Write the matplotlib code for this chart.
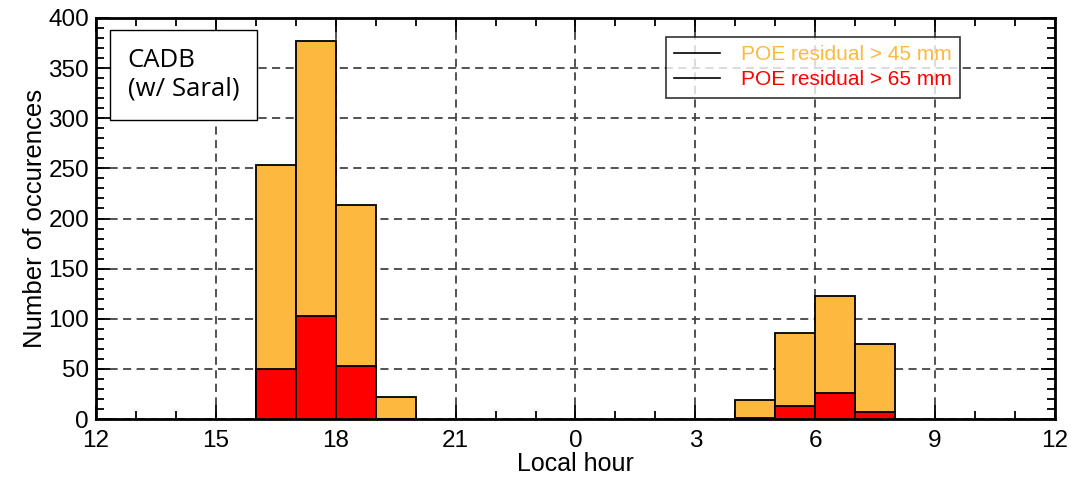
import numpy as np
import matplotlib
matplotlib.use('Agg')
import matplotlib.pyplot as plt
from matplotlib.ticker import MultipleLocator
from matplotlib.lines import Line2D

plt.rcParams['font.family'] = ['Liberation Sans', 'DejaVu Sans']

# ---------------------- data ----------------------
# bin left edges in hours since noon (12 -> 36, wrapping through midnight)
bin_left = [16, 17, 18, 19, 28, 29, 30, 31]
count_45 = [253, 377, 213, 22, 19, 86, 123, 75]
count_65 = [50, 103, 53, 0, 1, 13, 26, 7]
tick_pos = [12, 15, 18, 21, 24, 27, 30, 33, 36]
tick_lab = ['12', '15', '18', '21', '0', '3', '6', '9', '12']

orange = '#FDB93F'
red = '#FF0000'

fig = plt.figure(figsize=(10.71, 4.79), dpi=100)
ax = fig.add_axes([96 / 1071, 1 - 419 / 479, 959 / 1071, 401 / 479])

ax.bar(bin_left, count_45, width=1, align='edge', color=orange,
       edgecolor='black', linewidth=1.3, zorder=3)
ax.bar(bin_left, count_65, width=1, align='edge', color=red,
       edgecolor='black', linewidth=1.3, zorder=4)

ax.set_xlim(12, 36)
ax.set_ylim(0, 400)
ax.set_xticks(tick_pos)
ax.set_xticklabels(tick_lab)
ax.xaxis.set_minor_locator(MultipleLocator(1))
ax.yaxis.set_major_locator(MultipleLocator(50))
ax.yaxis.set_minor_locator(MultipleLocator(10))
ax.tick_params(which='both', direction='in', top=True, right=True,
               labelsize=17.5, width=1.3, colors='black')
ax.tick_params(which='major', length=10)
ax.tick_params(which='minor', length=6)
ax.tick_params(axis='x', pad=8)
ax.tick_params(axis='y', pad=5)
for s in ax.spines.values():
    s.set_linewidth(2)
ax.grid(True, which='major', linestyle=(0, (4.5, 3)), color='#444444',
        linewidth=1.3, zorder=1)

ax.set_xlabel('Local hour', fontsize=18, labelpad=0)
ax.set_ylabel('Number of occurences', fontsize=18.5, labelpad=1)

# clipped label of an upper panel
fig.text(0.5, 1.018, 'Local hour', ha='center', va='center', fontsize=18.5)

# CADB box
ax.text(0.033, 0.925, 'CADB\n(w/ Saral)', transform=ax.transAxes,
        ha='left', va='top', fontsize=18.5, linespacing=1.2, zorder=6,
        family=['Open Sans', 'DejaVu Sans'],
        bbox=dict(boxstyle='square,pad=0.7', facecolor='white',
                  edgecolor='black', linewidth=1))

handles = [Line2D([], [], color='black', linewidth=1.2),
           Line2D([], [], color='black', linewidth=1.2)]
leg = ax.legend(handles, ['POE residual > 45 mm', 'POE residual > 65 mm'],
                loc='upper left', bbox_to_anchor=(0.594, 0.953),
                fontsize=15, frameon=True, fancybox=False, handlelength=2.2,
                handletextpad=1.0, borderpad=0.4, labelspacing=0.3,
                borderaxespad=0)
leg.get_frame().set_edgecolor('black')
leg.get_frame().set_linewidth(1.2)
leg.set_zorder(6)
for t, c in zip(leg.get_texts(), [orange, red]):
    t.set_color(c)

fig.savefig('out.png', dpi=100)
